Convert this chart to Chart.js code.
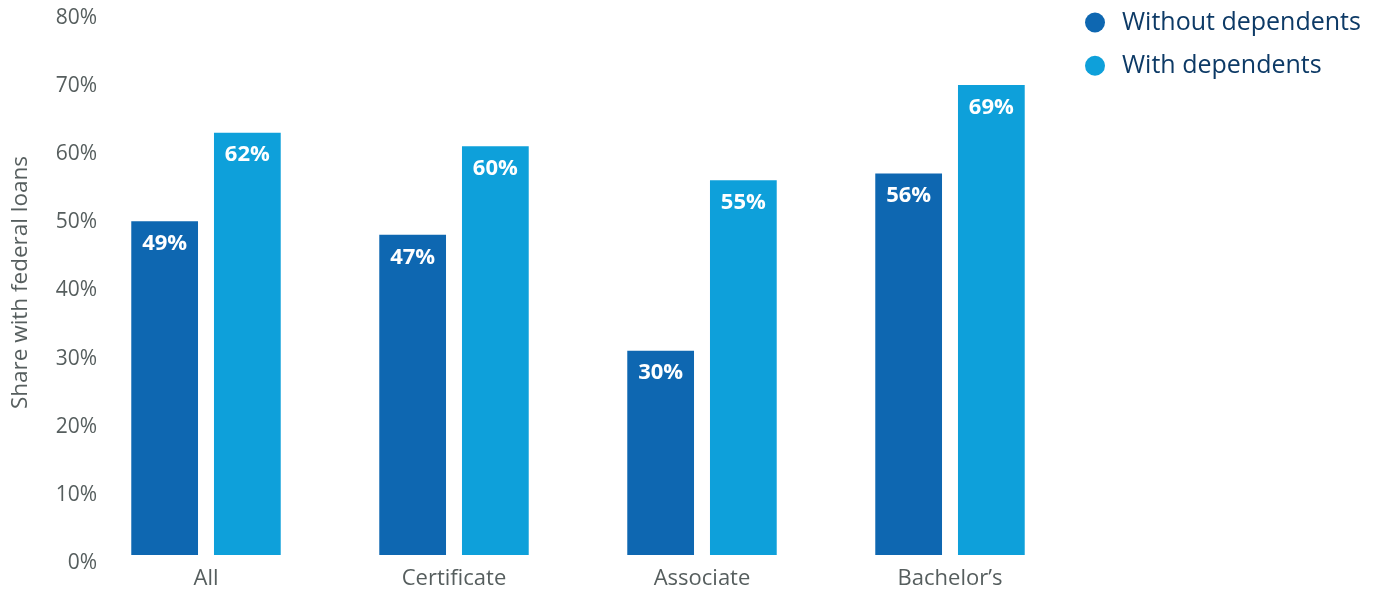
<!DOCTYPE html>
<html>
<head>
<meta charset="utf-8">
<script src="https://cdn.jsdelivr.net/npm/chart.js@4"></script>
<style>
  html, body { margin: 0; padding: 0; background: #ffffff; }
  #wrap { width: 1379px; height: 594px; }
</style>
</head>
<body>
<div id="wrap"><canvas id="c" width="1379" height="594"></canvas></div>
<script>
const categories = ['All', 'Certificate', 'Associate', 'Bachelor\u2019s'];
const withoutDependents = [49, 47, 30, 56];
const withDependents = [62, 60, 55, 69];
const seriesNames = ['Without dependents', 'With dependents'];
const seriesColors = ['#0e67b1', '#0ea0da'];
const yAxisTitle = 'Share with federal loans';

const FONT = "'Open Sans', 'Liberation Sans', sans-serif";
const GRAY = '#565e5e';
const NAVY = '#0d3a66';

const valueLabels = {
  id: 'valueLabels',
  afterDatasetsDraw(chart) {
    const ctx = chart.ctx;
    ctx.save();
    ctx.font = 'bold 22px ' + FONT;
    ctx.fillStyle = '#ffffff';
    ctx.textAlign = 'center';
    ctx.textBaseline = 'middle';
    chart.data.datasets.forEach((ds, di) => {
      const meta = chart.getDatasetMeta(di);
      meta.data.forEach((bar, i) => {
        ctx.fillText(ds.data[i] + '%', bar.x, bar.y + 22.5);
      });
    });
    ctx.restore();
  }
};

const sideLegend = {
  id: 'sideLegend',
  afterDraw(chart) {
    const ctx = chart.ctx;
    const area = chart.chartArea;
    ctx.save();
    ctx.font = '25px ' + FONT;
    ctx.textBaseline = 'middle';
    ctx.textAlign = 'left';
    chart.data.datasets.forEach((ds, i) => {
      const cy = 22.5 + i * 43.3;
      const cx = area.right + 21;
      ctx.beginPath();
      ctx.arc(cx, cy, 10, 0, Math.PI * 2);
      ctx.fillStyle = ds.backgroundColor;
      ctx.fill();
      ctx.fillStyle = NAVY;
      ctx.fillText(ds.label, cx + 27, cy + 0.5);
    });
    ctx.restore();
  }
};

new Chart(document.getElementById('c'), {
  type: 'bar',
  data: {
    labels: categories,
    datasets: [
      { label: seriesNames[0], data: withoutDependents, backgroundColor: seriesColors[0] },
      { label: seriesNames[1], data: withDependents, backgroundColor: seriesColors[1] }
    ]
  },
  options: {
    responsive: false,
    animation: false,
    devicePixelRatio: 1,
    layout: { padding: { top: 10, right: 305, bottom: 2, left: 0 } },
    datasets: { bar: { categoryPercentage: 0.667, barPercentage: 0.807 } },
    plugins: {
      legend: { display: false },
      tooltip: { enabled: false }
    },
    scales: {
      x: {
        grid: { display: false, drawTicks: false },
        border: { display: false },
        afterFit(scale) { scale.height = 37; },
        ticks: { font: { family: FONT, size: 22 }, color: GRAY, padding: 11 }
      },
      y: {
        min: 0, max: 80,
        grid: { display: false, drawTicks: false },
        border: { display: false },
        afterFit(scale) {
          scale.width = 82;
          scale._computeLabelArea = function () { return undefined; };
        },
        ticks: {
          stepSize: 10,
          font: { family: FONT, size: 21 },
          color: GRAY,
          padding: -15,
          labelOffset: 8,
          callback: v => v + '%'
        },
        title: {
          display: true,
          text: yAxisTitle,
          font: { family: FONT, size: 22.5 },
          color: GRAY,
          padding: { top: 7, bottom: 0 }
        }
      }
    }
  },
  plugins: [valueLabels, sideLegend]
});
</script>
</body>
</html>
